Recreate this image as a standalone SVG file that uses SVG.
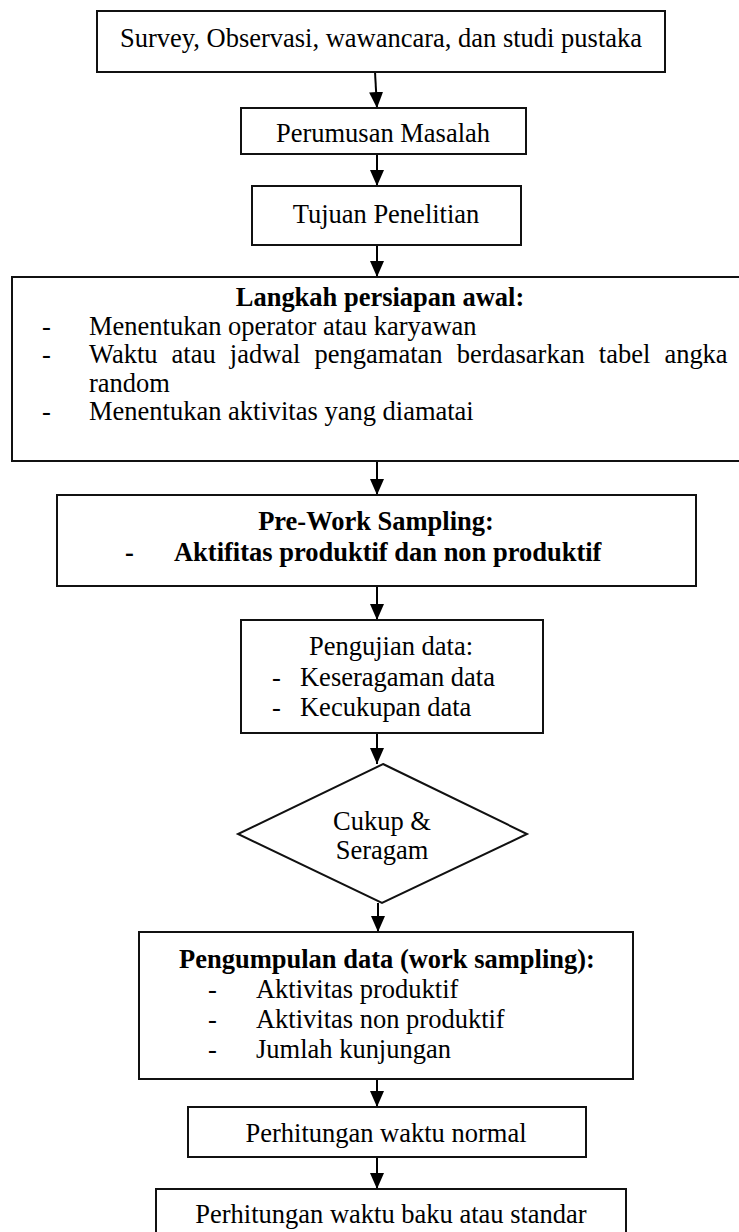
<svg xmlns="http://www.w3.org/2000/svg" width="739" height="1232" viewBox="0 0 739 1232">
<defs>
<style>
.box{fill:#fff;stroke:#111;stroke-width:2}
.t{font-family:"Liberation Serif","Times New Roman",serif;font-size:26.5px;fill:#000}
.c{text-anchor:middle}
.b{font-weight:bold}
.con line{stroke:#000;stroke-width:2;marker-end:url(#ah)}
</style>
<marker id="ah" viewBox="0 0 16 16" refX="16" refY="8" markerWidth="16" markerHeight="16" markerUnits="userSpaceOnUse" orient="auto">
<path d="M0,1 L16,8 L0,15 z" fill="#000"/>
</marker>
</defs>
<rect width="739" height="1232" fill="#fff"/>
<g class="con">
<line x1="375" y1="72" x2="377" y2="108"/>
<line x1="377" y1="154" x2="377" y2="186"/>
<line x1="377" y1="245" x2="377" y2="277"/>
<line x1="377" y1="461" x2="377" y2="495"/>
<line x1="377" y1="586" x2="377" y2="620"/>
<line x1="377" y1="733" x2="377" y2="764"/>
<line x1="378" y1="903" x2="378" y2="932"/>
<line x1="377" y1="1079" x2="377" y2="1107"/>
<line x1="377" y1="1157" x2="377" y2="1189"/>
</g>
<g id="n1">
<rect class="box" x="97" y="11" width="568" height="61"/>
<text class="t c" x="381" transform="translate(0,47) scale(1,1.06)">Survey, Observasi, wawancara, dan studi pustaka</text>
</g>
<g id="n2">
<rect class="box" x="241" y="108" width="285" height="46"/>
<text class="t c" x="383" transform="translate(0,142) scale(1,1.06)">Perumusan Masalah</text>
</g>
<g id="n3">
<rect class="box" x="252" y="186" width="269" height="59"/>
<text class="t c" x="386" transform="translate(0,223) scale(1,1.06)">Tujuan Penelitian</text>
</g>
<g id="n4">
<rect class="box" x="12" y="277" width="740" height="184"/>
<text class="t c b" x="380" transform="translate(0,306) scale(1,1.06)">Langkah persiapan awal:</text>
<text class="t" x="42" transform="translate(0,335) scale(1,1.06)">-</text>
<text class="t" x="89" transform="translate(0,335) scale(1,1.06)">Menentukan operator atau karyawan</text>
<text class="t" x="42" transform="translate(0,363) scale(1,1.06)">-</text>
<text class="t" x="89" word-spacing="7.5" transform="translate(0,363) scale(1,1.06)">Waktu atau jadwal pengamatan berdasarkan tabel angka</text>
<text class="t" x="89" transform="translate(0,392) scale(1,1.06)">random</text>
<text class="t" x="42" transform="translate(0,420) scale(1,1.06)">-</text>
<text class="t" x="89" transform="translate(0,420) scale(1,1.06)">Menentukan aktivitas yang diamatai</text>
</g>
<g id="n5">
<rect class="box" x="57" y="495" width="639" height="91"/>
<text class="t c b" x="376" transform="translate(0,530) scale(1,1.06)">Pre-Work Sampling:</text>
<text class="t b" x="125" transform="translate(0,561) scale(1,1.06)">-</text>
<text class="t b" x="174" transform="translate(0,561) scale(1,1.06)">Aktifitas produktif dan non produktif</text>
</g>
<g id="n6">
<rect class="box" x="241" y="620" width="302" height="113"/>
<text class="t" x="309" transform="translate(0,655) scale(1,1.06)">Pengujian data:</text>
<text class="t" x="272" transform="translate(0,686) scale(1,1.06)">-</text>
<text class="t" x="300" transform="translate(0,686) scale(1,1.06)">Keseragaman data</text>
<text class="t" x="272" transform="translate(0,716) scale(1,1.06)">-</text>
<text class="t" x="300" transform="translate(0,716) scale(1,1.06)">Kecukupan data</text>
</g>
<g id="n7">
<polygon points="383,764 527,834 382,903 238,834" fill="#fff" stroke="#111" stroke-width="2"/>
<text class="t c" x="382" transform="translate(0,830) scale(1,1.06)">Cukup &amp;</text>
<text class="t c" x="382" transform="translate(0,859) scale(1,1.06)">Seragam</text>
</g>
<g id="n8">
<rect class="box" x="139" y="932" width="494" height="147"/>
<text class="t c b" x="387" transform="translate(0,968) scale(1,1.06)">Pengumpulan data (work sampling):</text>
<text class="t" x="208" transform="translate(0,998) scale(1,1.06)">-</text>
<text class="t" x="256" transform="translate(0,998) scale(1,1.06)">Aktivitas produktif</text>
<text class="t" x="208" transform="translate(0,1028) scale(1,1.06)">-</text>
<text class="t" x="256" transform="translate(0,1028) scale(1,1.06)">Aktivitas non produktif</text>
<text class="t" x="208" transform="translate(0,1058) scale(1,1.06)">-</text>
<text class="t" x="256" transform="translate(0,1058) scale(1,1.06)">Jumlah kunjungan</text>
</g>
<g id="n9">
<rect class="box" x="188" y="1107" width="398" height="50"/>
<text class="t c" x="386" transform="translate(0,1142) scale(1,1.06)">Perhitungan waktu normal</text>
</g>
<g id="n10">
<rect class="box" x="156" y="1189" width="470" height="60"/>
<text class="t c" x="391" transform="translate(0,1223) scale(1,1.06)">Perhitungan waktu baku atau standar</text>
</g>
</svg>
